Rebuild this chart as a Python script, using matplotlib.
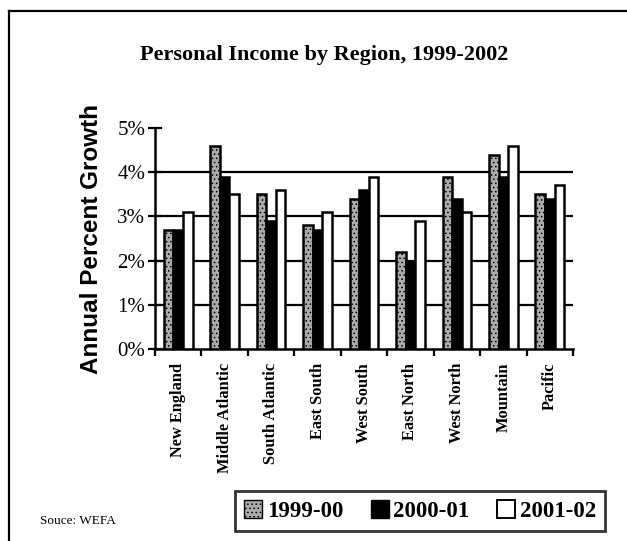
import matplotlib
matplotlib.use("Agg")
import matplotlib.pyplot as plt
import numpy as np
from matplotlib.patches import Patch
from matplotlib.lines import Line2D

regions = ["New England", "Middle Atlantic", "South Atlantic", "East South",
           "West South", "East North", "West North", "Mountain", "Pacific"]
s_1999 = [2.7, 4.6, 3.5, 2.8, 3.4, 2.2, 3.9, 4.4, 3.5]
s_2000 = [2.7, 3.9, 2.9, 2.7, 3.6, 2.0, 3.4, 3.9, 3.4]
s_2001 = [3.1, 3.5, 3.6, 3.1, 3.9, 2.9, 3.1, 4.6, 3.7]
series_names = ["1999-00", "2000-01", "2001-02"]
yticks = [0, 1, 2, 3, 4, 5]
ytick_labels = ["0%", "1%", "2%", "3%", "4%", "5%"]

W, H = 627, 541
fig = plt.figure(figsize=(W / 100, H / 100), dpi=100)

ax = fig.add_axes([155 / W, (H - 349) / H, (573 - 155) / W, (349 - 128) / H])

x = np.arange(len(regions))
bw = 0.205
styles = [dict(facecolor="#ababab", hatch="....", edgecolor="black"),
          dict(facecolor="black", edgecolor="black"),
          dict(facecolor="white", edgecolor="black")]
plt.rcParams['hatch.color'] = '#777777'
plt.rcParams['hatch.linewidth'] = 0.6
for i, (vals, st) in enumerate(zip([s_1999, s_2000, s_2001], styles)):
    ax.bar(x + (i - 1) * bw, vals, width=bw, linewidth=1.8, zorder=3, **st)

ax.set_xlim(-0.5, len(regions) - 0.5)
ax.set_ylim(0, 5)
ax.set_yticks(yticks)
ax.set_yticklabels(ytick_labels, fontfamily="Liberation Serif", fontsize=15)
for yv in yticks[1:-1]:
    ax.axhline(yv, color="black", linewidth=1.6, zorder=1)

ax.set_xticks(np.arange(len(regions) + 1) - 0.5)
ax.set_xticklabels([])
ax.set_xticks(x, minor=True)
ax.set_xticklabels(regions, minor=True, rotation=90, fontfamily="Liberation Serif",
                   fontweight="bold", fontsize=11.8, va="top", ha="center")
ax.tick_params(axis="x", which="minor", length=0, pad=10)
ax.tick_params(axis="x", which="major", direction="out", length=5, width=1.6)
ax.tick_params(axis="y", direction="inout", length=10, width=1.6, pad=2)

for side in ["top", "right"]:
    ax.spines[side].set_visible(False)
for side in ["left", "bottom"]:
    ax.spines[side].set_linewidth(1.8)

ax.set_ylabel("Annual Percent Growth", fontfamily="Liberation Sans", fontweight="bold",
              fontsize=17.5, labelpad=10)

fig.text(324 / W, 1 - 55 / H, "Personal Income by Region, 1999-2002",
         fontfamily="Liberation Serif", fontweight="bold", fontsize=16,
         ha="center", va="center")
fig.text(40 / W, 1 - 521 / H, "Souce: WEFA", fontfamily="Liberation Serif",
         fontsize=9.5, ha="left", va="center")

# frame lines (left and top)
fig.add_artist(Line2D([9 / W, 9 / W], [0, 1 - 11 / H], transform=fig.transFigure,
                      color="black", linewidth=1.6))
fig.add_artist(Line2D([9 / W, 1], [1 - 11 / H, 1 - 11 / H], transform=fig.transFigure,
                      color="black", linewidth=1.6))

handles = [Patch(facecolor="#ababab", hatch="....", edgecolor="black"),
           Patch(facecolor="black", edgecolor="black"),
           Patch(facecolor="white", edgecolor="black", linewidth=1.4)]
leg = fig.legend(handles, series_names, loc="center", bbox_to_anchor=(420 / W, 1 - 511 / H),
                 ncol=3, frameon=True, fancybox=False, edgecolor="black",
                 prop={"family": "Liberation Serif", "weight": "bold", "size": 16.5},
                 handlelength=0.8, handleheight=0.8, handletextpad=0.2,
                 columnspacing=1.2, borderpad=0.4)
leg.get_frame().set_linewidth(2)

fig.savefig("out.png", dpi=100)
